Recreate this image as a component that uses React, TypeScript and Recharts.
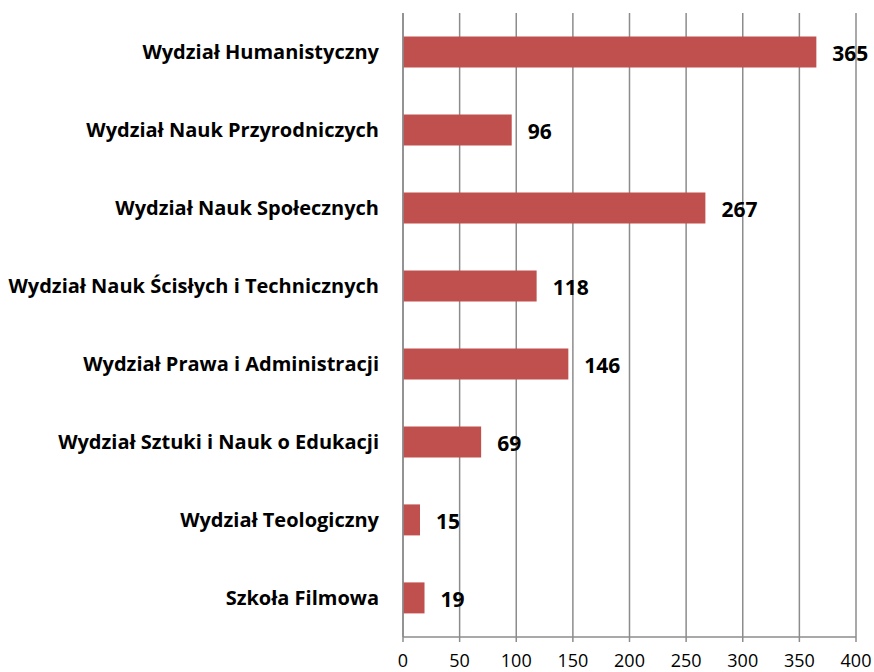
import React from "react";
import { BarChart, Bar, XAxis, YAxis, CartesianGrid, LabelList } from "recharts";

// Faculties, top to bottom, and their counts
const faculties = [
  "Wydział Humanistyczny",
  "Wydział Nauk Przyrodniczych",
  "Wydział Nauk Społecznych",
  "Wydział Nauk Ścisłych i Technicznych",
  "Wydział Prawa i Administracji",
  "Wydział Sztuki i Nauk o Edukacji",
  "Wydział Teologiczny",
  "Szkoła Filmowa",
];
const counts = [365, 96, 267, 118, 146, 69, 15, 19];
const xTicks = [0, 50, 100, 150, 200, 250, 300, 350, 400];
// band edges for the small tick marks between categories
const bandEdges = [0, 1, 2, 3, 4, 5, 6, 7, 8];

const data = faculties.map((name, i) => ({ name, value: counts[i] }));

const FONT = "'Open Sans', sans-serif";
const GRID = "#8c8c8c";
const BAR = "#C0504D";

export default function App() {
  return (
    <div style={{ position: "absolute", left: 0, top: 0, background: "#fff" }}>
      <BarChart
        width={874}
        height={672}
        data={data}
        layout="vertical"
        margin={{ top: 13, right: 18, bottom: 0, left: 0 }}
        barCategoryGap="30%"
      >
        <CartesianGrid horizontal={false} stroke={GRID} strokeWidth={1.5} />
        <XAxis
          type="number"
          domain={[0, 400]}
          ticks={xTicks}
          interval={0}
          stroke={GRID}
          strokeWidth={1.5}
          tickSize={5}
          tickMargin={12}
          height={35}
          tick={{ fill: "#000", fontSize: 18, fontFamily: FONT }}
        />
        <YAxis
          yAxisId="a-edges"
          type="number"
          domain={[0, 8]}
          ticks={bandEdges}
          interval={0}
          reversed
          width={0}
          axisLine={false}
          tickFormatter={() => ""}
          tickSize={7}
          tickLine={{ stroke: GRID, strokeWidth: 1.5 }}
        />
        <YAxis
          yAxisId="b-cat"
          type="category"
          dataKey="name"
          width={403}
          stroke={GRID}
          strokeWidth={1.5}
          tickLine={false}
          tickMargin={18}
          interval={0}
          tick={{ fill: "#000", fontSize: 20, fontWeight: 700, fontFamily: FONT }}
        />
        <Bar yAxisId="b-cat" dataKey="value" fill={BAR} isAnimationActive={false}>
          <LabelList
            dataKey="value"
            position="right"
            offset={16}
            dy={2}
            style={{ fill: "#000", fontSize: 21, fontWeight: 700, fontFamily: FONT }}
          />
        </Bar>
      </BarChart>
    </div>
  );
}
